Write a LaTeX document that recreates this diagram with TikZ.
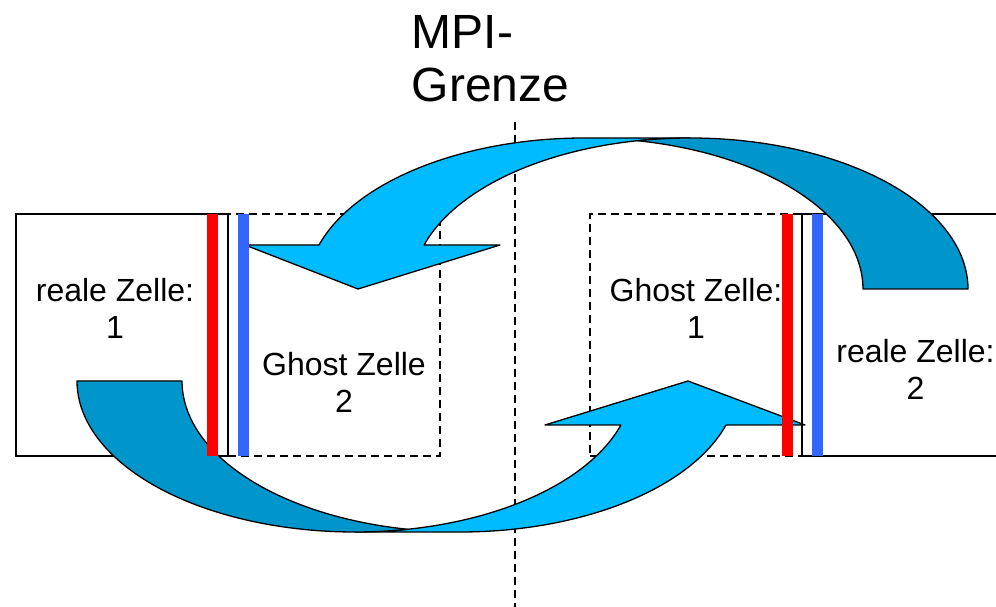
\documentclass[tikz,border=0pt]{standalone}
\usepackage{fontspec}
\setmainfont{Liberation Sans}
\definecolor{arrowlight}{RGB}{0,187,255}
\definecolor{arrowdark}{RGB}{0,150,204}
\definecolor{barred}{RGB}{255,0,0}
\definecolor{barblue}{RGB}{51,102,255}
\begin{document}
\begin{tikzpicture}[x=1pt,y=1pt,
  cellbox/.style={draw=black, line width=1.3pt, inner sep=0pt, outer sep=0pt, minimum height=242pt},
  ghostbox/.style={cellbox, dash pattern=on 8pt off 5pt},
  bar/.style={inner sep=0pt, outer sep=0pt, minimum width=11pt, minimum height=242pt},
  arrowpart/.style={draw=black, line width=1.3pt, line join=round},
  celltext/.style={font=\fontsize{32}{37.5}\selectfont, align=center, inner sep=0pt, anchor=north},
  ell/.style={x radius=278pt, y radius=151pt}
]
\useasboundingbox (0,0) rectangle (996,607);
\clip (0,0) rectangle (996,607);
% cells
\node[ghostbox, minimum width=212pt] (ghost2) at (334,272) {};
\node[ghostbox, minimum width=212pt] (ghost1) at (696,272) {};
\node[cellbox, minimum width=212pt] (real1) at (122,272) {};
\node[cellbox, minimum width=220pt] (real2) at (912,272) {};
% MPI boundary
\coordinate (mpitop) at (515,485);
\coordinate (mpibot) at (515,0);
\draw[dash pattern=on 8pt off 5pt, line width=1.3pt] (mpitop) -- (mpibot);
% top arrow
\draw[arrowpart, fill=arrowlight] (358,318) -- (245,362) -- (319,362)
  arc[start angle=163.06, end angle=90, ell] -- (690,469)
  arc[start angle=90, end angle=163.06, ell] -- (500,362) -- cycle;
\draw[arrowpart, fill=arrowdark] (968,318)
  arc[start angle=0, end angle=100.89, ell]
  arc[start angle=79.11, end angle=0, ell] -- cycle;
% bottom arrow
\draw[arrowpart, fill=arrowlight] (688,226) -- (805,182) -- (726,182)
  arc[start angle=-16.94, end angle=-90, ell] -- (355,75)
  arc[start angle=-90, end angle=-16.94, ell] -- (545,182) -- cycle;
\draw[arrowpart, fill=arrowdark] (77,226)
  arc[start angle=180, end angle=280.89, ell]
  arc[start angle=259.11, end angle=180, ell] -- cycle;
% bars
\node[bar, fill=barred] (red1) at (212.5,272) {};
\node[bar, fill=barblue] (blue1) at (243.5,272) {};
\node[bar, fill=barred] (red2) at (787.5,272) {};
\node[bar, fill=barblue] (blue2) at (817.5,272) {};
% texts
\node[celltext] (t1) at (115,329) {reale Zelle:\\1};
\node[celltext] (t2) at (344,255) {Ghost Zelle\\2};
\node[celltext] (t3) at (696,329) {Ghost Zelle:\\1};
\node[celltext] (t4) at (915.5,268) {reale Zelle:\\2};
\node[font=\fontsize{48}{53}\selectfont, align=left, inner sep=0pt, anchor=north west] (mpi) at (411.5,591.4) {MPI-\\Grenze};
\end{tikzpicture}
\end{document}
